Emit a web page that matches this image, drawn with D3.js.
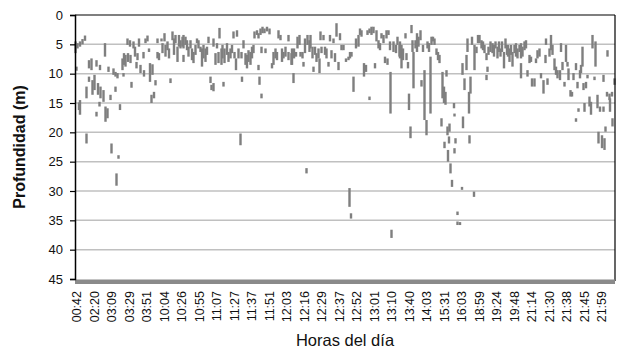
<!DOCTYPE html>
<html><head><meta charset="utf-8">
<script src="https://cdn.jsdelivr.net/npm/d3@7"></script>
<style>
body{margin:0;background:#fff;}
svg{display:block;font-family:Arial,"Liberation Sans",sans-serif;}
</style>
</head><body>
<svg id="c" width="617" height="351"></svg>
<script>
// Etiquetas del eje de categorías (horas del día)
const horas = ["00:42","02:20","03:09","03:29","03:51","10:04","10:26","10:55","11:07","11:27","11:37","11:51","12:03","12:16","12:29","12:37","12:52","13:01","13:10","13:40","14:03","15:31","16:03","18:59","19:24","19:48","21:14","21:30","21:38","21:45","21:59"];
// Marcas del eje de profundidad (m)
const ticksProf = [0,5,10,15,20,25,30,35,40,45];
const totalMuestras = 1080;   // número de registros en el eje de categorías
const pasoEtiqueta = 35;      // una etiqueta cada 35 registros
const primeraEtiqueta = 3;

// Registros: índice de muestra, profundidad mínima y máxima (m)
const muestra = [
 1,5,10,15,20,3,10,8,23,23,28,33,28,35,39,43,43,46,50,51,49,57,60,61,65,67,71,73,77,81,81,85,87,83,90,95,98,97,101,105,106,110,111,113,117,120,123,125,128,131,137,138,141,145,148,150,153,155,158,161,165,165,173,168,175,179,181,185,188,191,195,198,201,205,208,211,215,
 217,221,224,227,217,231,234,237,241,244,247,251,254,257,261,264,267,271,273,277,277,281,284,287,289,293,295,297,299,304,307,311,314,317,319,322,324,327,331,334,333,337,341,344,347,351,354,357,359,364,367,369,373,367,371,375,379,384,389,373,381,394,397,401,404,407,411,414,417,421,427,427,433,
 434,437,438,442,445,449,451,455,457,460,463,465,469,471,475,477,480,483,487,489,491,493,497,500,503,507,510,513,517,520,523,527,530,533,537,542,547,550,549,552,553,557,562,567,570,573,578,582,585,589,589,593,597,600,603,607,610,613,617,620,623,625,627,630,631,633,637,642,645,649,
 650,653,656,661,663,666,668,671,673,675,677,681,684,687,691,693,696,699,703,705,708,711,713,716,719,723,726,729,733,735,738,741,739,743,745,746,748,749,751,754,758,759,759,761,765,765,770,774,775,776,779,783,785,788,789,791,794,798,799,803,806,809,813,816,819,823,825,823,827,831,835,838,841,845,848,851,854,858,861,864,
 866,869,872,875,879,882,885,889,892,892,895,899,902,905,909,912,914,919,922,925,929,932,937,941,942,945,949,952,955,959,962,965,970,972,975,979,982,985,987,991,994,997,1002,1002,1005,1007,1010,1012,1015,1017,1019,1022,1025,1029,1032,1035,1039,1041,1045,1047,1050,1054,1057,1059,1057,1061,1065,1064,1069,1070,1074,1075,1079
];
const profMin = [
 4.5,4.8,4.5,4.1,3.5,8.8,14.5,14.9,12.2,20.2,7.7,7.4,10.5,11.1,10.2,7.7,16.5,11.6,8.5,12.2,14.8,12.8,4.8,15.6,15.9,8.8,13.6,21.9,9.1,9.7,12.2,9.9,23.9,27.0,15.2,7.4,6.5,9.9,6.8,4.0,6.5,4.3,6.8,11.4,4.5,5.4,8.0,6.5,4.0,8.5,6.3,9.4,4.0,3.5,5.7,8.2,13.6,8.4,13.1,11.1,4.0,6.3,4.0,6.5,4.8,3.1,5.1,4.5,5.7,10.8,2.8,4.0,3.4,5.4,3.4,4.3,3.7,
 3.4,3.7,4.3,5.4,6.8,4.3,5.7,6.3,5.1,4.0,4.3,5.4,5.7,5.1,5.7,5.4,3.7,10.5,11.9,4.0,11.6,6.5,4.8,6.3,2.2,5.7,5.1,11.4,5.7,4.8,6.3,5.7,5.1,2.8,6.3,7.4,2.6,5.7,20.2,10.5,6.3,4.3,6.5,6.8,6.0,6.3,5.4,5.1,2.8,2.6,8.5,10.5,13.4,3.1,2.3,2.0,2.3,2.0,2.3,5.4,5.7,8.2,6.3,5.7,6.3,2.6,3.4,5.7,6.3,5.4,3.4,6.3,6.5,
 5.7,9.9,5.7,6.3,3.7,3.4,6.3,6.3,8.0,4.0,26.1,3.4,4.3,3.4,5.4,8.8,5.4,6.5,5.7,7.4,2.8,5.4,3.4,5.4,5.7,8.0,3.4,6.0,4.0,6.5,1.4,8.0,3.1,5.1,5.1,7.4,7.1,6.3,29.5,33.8,6.3,10.5,4.0,3.4,2.3,2.6,8.2,8.5,2.6,2.3,13.9,2.0,2.0,8.2,2.6,4.3,4.8,3.1,3.4,7.1,2.6,7.4,2.6,4.5,9.7,36.6,4.5,5.1,3.7,5.1,
 4.5,5.1,5.7,3.1,6.5,8.0,13.4,19.0,1.7,4.3,6.3,4.3,3.1,3.7,2.6,11.1,5.1,9.4,17.9,4.5,4.8,7.1,3.7,3.7,4.0,5.7,6.3,6.8,17.6,9.7,12.2,13.1,21.6,9.4,19.0,23.0,20.7,18.5,25.3,28.1,15.0,16.8,22.7,21.0,33.5,35.2,35.3,29.3,8.2,17.3,10.8,6.8,4.0,13.1,20.5,10.5,3.7,30.1,5.1,5.4,3.4,3.4,4.3,4.5,5.1,6.5,8.8,10.2,5.4,4.5,4.8,5.1,4.5,5.4,4.5,5.7,4.5,6.3,4.0,5.1,
 5.1,5.7,5.1,6.3,5.1,4.8,5.7,5.1,8.2,4.8,5.4,4.5,4.3,9.4,6.8,7.1,10.8,10.8,7.4,6.0,5.7,9.9,11.1,6.8,4.0,10.8,5.7,3.4,5.1,7.4,8.8,9.4,9.4,4.8,8.0,11.4,5.1,8.0,9.1,12.8,13.1,9.9,8.2,17.6,11.4,15.9,9.4,8.5,5.4,11.6,15.0,11.4,10.2,13.9,14.8,3.4,10.5,4.5,13.6,19.9,15.6,20.5,10.2,21.0,15.6,19.0,6.0,13.1,13.4,14.2,13.1,17.6,10.8
];
const profMax = [
 6.5,5.7,5.4,5.0,4.4,9.5,17.0,16.2,14.2,21.9,9.1,9.4,11.4,13.6,12.8,8.8,17.3,13.6,9.4,14.2,15.6,14.8,7.1,18.2,17.6,9.7,14.5,23.6,10.2,10.5,13.1,10.8,24.5,29.1,16.2,9.4,8.5,10.5,8.8,5.1,8.0,5.4,8.2,12.4,5.7,7.1,9.1,7.7,5.4,9.9,7.4,10.5,4.8,4.5,6.3,11.4,15.0,10.2,14.2,12.0,4.8,7.4,4.5,7.7,6.5,4.5,7.1,6.0,7.4,11.6,4.3,6.8,4.8,8.0,5.4,5.7,5.4,
 5.7,5.1,6.0,7.1,8.0,5.7,7.7,8.2,6.8,4.8,5.7,6.3,8.8,7.4,8.0,6.8,4.8,11.6,12.8,5.4,13.0,8.5,5.7,8.2,4.0,8.5,7.4,12.2,8.2,6.8,8.0,7.4,6.5,4.0,7.4,9.4,3.7,7.4,22.2,11.4,7.4,5.7,8.5,9.1,8.0,8.5,7.4,6.5,4.0,3.4,9.4,11.9,14.2,4.0,3.4,3.1,3.1,2.8,3.3,6.5,6.5,9.1,8.5,7.4,7.7,4.0,4.3,8.0,7.4,7.1,4.5,7.7,8.5,
 8.5,11.6,7.4,7.1,5.7,5.1,7.1,7.4,8.8,6.5,27.0,5.1,6.3,5.7,7.4,9.7,6.8,8.0,7.4,9.9,4.3,6.5,4.3,6.8,7.4,8.8,4.5,7.4,4.8,8.0,3.7,9.4,4.3,6.0,6.0,8.0,7.7,7.4,32.7,34.7,7.1,13.1,5.7,5.4,3.4,3.7,10.5,9.7,3.4,3.1,14.5,3.4,3.1,9.1,4.5,5.7,6.0,4.0,4.8,8.2,4.0,8.5,3.4,6.0,16.8,38.0,6.3,6.5,5.1,7.1,
 7.4,9.1,7.7,4.0,7.7,9.1,16.2,21.0,3.1,6.3,12.5,5.7,6.3,5.4,4.3,12.2,6.3,17.9,20.5,5.7,6.3,16.8,5.1,4.5,5.1,6.8,7.7,8.2,19.0,14.2,15.0,15.3,22.7,10.5,20.5,25.0,21.9,19.9,27.0,29.3,15.9,17.3,23.6,21.9,34.1,35.8,35.8,29.8,10.2,19.3,12.8,9.4,6.3,16.8,21.9,13.4,5.1,31.0,9.4,6.5,4.8,4.8,5.7,6.0,6.5,7.7,9.7,11.1,6.8,6.3,6.5,7.1,5.7,7.4,6.3,7.1,6.3,9.1,5.7,6.8,
 7.1,8.0,6.8,8.8,6.5,7.1,7.4,6.3,10.8,7.4,7.1,6.0,5.7,10.5,8.2,8.0,12.2,12.2,8.2,7.4,7.1,10.8,13.4,8.2,5.1,11.9,7.1,6.0,6.8,9.4,10.2,10.8,11.1,6.3,9.4,12.2,8.0,8.8,11.1,13.9,13.9,11.1,9.4,18.2,12.5,16.5,10.8,9.9,8.8,12.8,16.5,12.5,10.8,15.6,17.0,5.7,11.1,8.8,15.9,21.9,16.5,22.7,11.4,23.0,16.5,19.9,7.1,13.9,14.5,16.5,13.9,19.0,11.9
];

const M = {l:75, r:615, t:15, b:279};
const svg = d3.select("#c");
const x = d3.scaleLinear().domain([0, totalMuestras]).range([M.l, M.r]);
const y = d3.scaleLinear().domain([0, 45]).range([M.t, M.b]);

// Líneas de cuadrícula
svg.append("g").selectAll("line").data(ticksProf.filter(t => t > 0 && t < 45)).join("line")
  .attr("x1", M.l).attr("x2", M.r)
  .attr("y1", d => y(d)).attr("y2", d => y(d))
  .attr("stroke", "#c0c0c0").attr("stroke-width", 1.5);

// Registros de profundidad
const n = Math.min(muestra.length, profMin.length, profMax.length);
const regs = d3.range(n).map(i => ({i: muestra[i], a: profMin[i], b: profMax[i]}));
svg.append("g").selectAll("rect").data(regs).join("rect")
  .attr("x", d => x(d.i) - 1.2)
  .attr("width", 2.4)
  .attr("y", d => y(d.a))
  .attr("height", d => Math.max(y(d.b) - y(d.a), 2.5))
  .attr("fill", "#7f7f7f");

// Marco superior y derecho
svg.append("line").attr("x1", M.l).attr("x2", M.r).attr("y1", M.t).attr("y2", M.t)
  .attr("stroke", "#000").attr("stroke-width", 1.2);
svg.append("line").attr("x1", M.r).attr("x2", M.r).attr("y1", M.t).attr("y2", M.b + 2)
  .attr("stroke", "#000").attr("stroke-width", 1.2);

// Eje de categorías (barra gris)
svg.append("rect").attr("x", M.l).attr("y", M.b + 0.5).attr("width", M.r - M.l).attr("height", 4.5)
  .attr("fill", "#8a8a8a");

// Eje Y
const yAxis = d3.axisLeft(y).tickValues(ticksProf).tickSize(5).tickPadding(7);
const gy = svg.append("g").attr("transform", `translate(${M.l},0)`).call(yAxis);
gy.select(".domain").attr("stroke", "#000").attr("stroke-width", 1.5);
gy.selectAll(".tick line").attr("stroke", "#000").attr("stroke-width", 1.2);
gy.selectAll(".tick text").attr("font-size", 13).attr("fill", "#111")
  .attr("font-family", "Arial, 'Liberation Sans', sans-serif");

// Etiquetas de horas
const posEtiq = horas.map((h, k) => ({h, v: primeraEtiqueta + k * pasoEtiqueta}));
const xAxis = d3.axisBottom(x).tickValues(posEtiq.map(d => d.v))
  .tickFormat((d, k) => horas[k]).tickSize(0);
const gx = svg.append("g").attr("transform", `translate(0,${M.b})`).call(xAxis);
gx.select(".domain").remove();
gx.selectAll(".tick text")
  .attr("font-size", 12.5).attr("fill", "#111")
  .attr("font-family", "Arial, 'Liberation Sans', sans-serif")
  .attr("text-anchor", "end")
  .attr("transform", "translate(0,12) rotate(-90)")
  .attr("x", 0).attr("y", 0).attr("dy", "0.35em");

// Títulos
svg.append("text").attr("transform", "translate(25,147) rotate(-90)")
  .attr("text-anchor", "middle").attr("font-size", 16).attr("font-weight", "bold")
  .attr("fill", "#111").text("Profundidad (m)");
svg.append("text").attr("x", 345).attr("y", 346)
  .attr("text-anchor", "middle").attr("font-size", 16.5).attr("fill", "#111")
  .text("Horas del día");
</script>
</body></html>
